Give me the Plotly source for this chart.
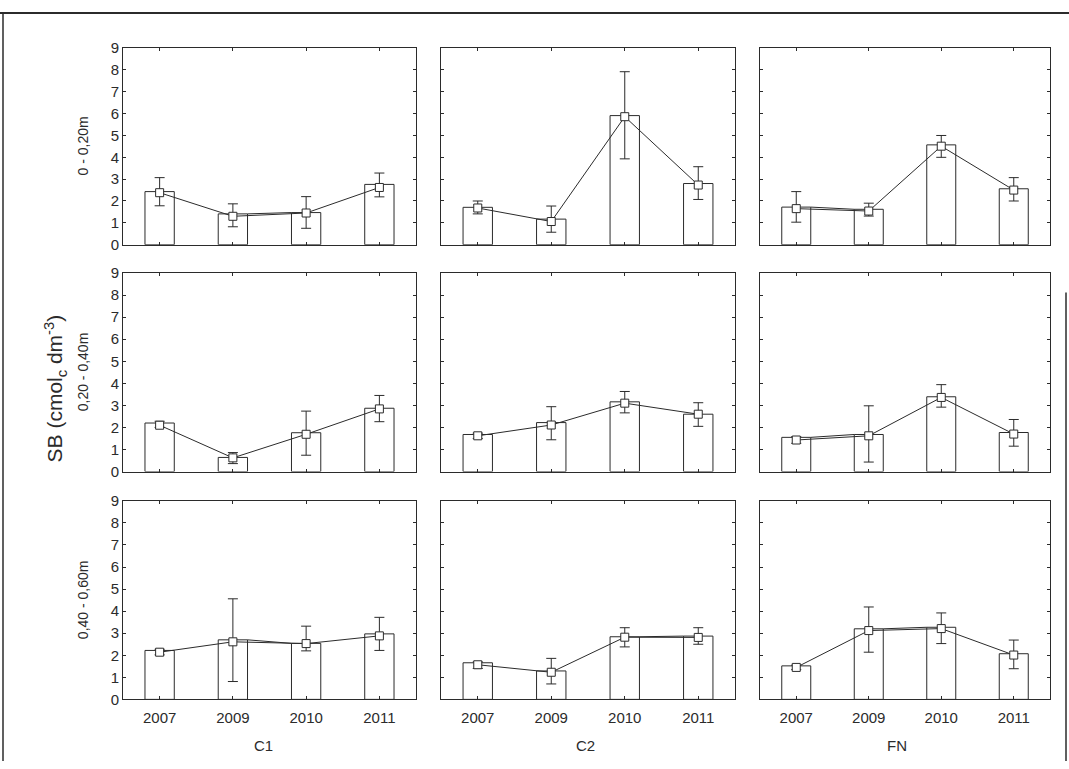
import plotly.graph_objects as go

# Sampling years, sites (columns) and soil depths (rows)
years = ["2007", "2009", "2010", "2011"]
sites = ["C1", "C2", "FN"]
depths = ["0 - 0,20m", "0,20 - 0,40m", "0,40 - 0,60m"]

# Bar heights per depth: one list per site (C1, C2, FN)
bar_0_20 = [[2.43, 1.41, 1.47, 2.76], [1.71, 1.17, 5.91, 2.80], [1.72, 1.62, 4.57, 2.56]]
bar_20_40 = [[2.20, 0.64, 1.76, 2.87], [1.68, 2.22, 3.16, 2.60], [1.55, 1.68, 3.39, 1.77]]
bar_40_60 = [[2.22, 2.70, 2.54, 2.97], [1.66, 1.29, 2.84, 2.87], [1.52, 3.20, 3.27, 2.07]]

# Mean values (square markers)
mean_0_20 = [[2.38, 1.30, 1.45, 2.62], [1.68, 1.06, 5.86, 2.73], [1.65, 1.54, 4.51, 2.50]]
mean_20_40 = [[2.10, 0.62, 1.69, 2.84], [1.62, 2.11, 3.10, 2.60], [1.43, 1.62, 3.36, 1.70]]
mean_40_60 = [[2.14, 2.61, 2.53, 2.88], [1.57, 1.23, 2.82, 2.81], [1.45, 3.12, 3.21, 2.01]]

# Upper ends of the whiskers
upper_0_20 = [[3.07, 1.87, 2.20, 3.28], [2.00, 1.77, 7.92, 3.57], [2.43, 1.90, 5.00, 3.07]]
upper_20_40 = [[2.28, 0.86, 2.74, 3.45], [1.74, 2.94, 3.63, 3.12], [1.58, 2.98, 3.94, 2.36]]
upper_40_60 = [[2.27, 4.56, 3.32, 3.72], [1.70, 1.86, 3.25, 3.25], [1.55, 4.19, 3.92, 2.69]]

# Lower ends of the whiskers
lower_0_20 = [[1.78, 0.82, 0.75, 2.19], [1.41, 0.57, 3.93, 2.07], [1.03, 1.31, 4.00, 2.00]]
lower_20_40 = [[2.00, 0.36, 0.74, 2.26], [1.50, 1.44, 2.66, 2.05], [1.28, 0.43, 2.92, 1.15]]
lower_40_60 = [[2.02, 0.81, 2.20, 2.22], [1.40, 0.70, 2.38, 2.50], [1.35, 2.14, 2.53, 1.39]]

# Adjacent bars whose tops are joined by a connector: (row, col) -> index of left bar
bar_links = {(0, 0): [1], (0, 2): [0], (1, 2): [0], (2, 0): [1], (2, 1): [2], (2, 2): [1]}

bars = [bar_0_20, bar_20_40, bar_40_60]
means = [mean_0_20, mean_20_40, mean_40_60]
uppers = [upper_0_20, upper_20_40, upper_40_60]
lowers = [lower_0_20, lower_20_40, lower_40_60]

W, H = 1069, 769
INK = "#2b2b2b"
FONT = "Arial, Liberation Sans, sans-serif"
BAR_W = 0.4

col_px = [(123, 416), (441, 735), (760, 1050)]
row_px = [(40, 241), (270, 473), (503, 706)]

fig = go.Figure()
layout = dict(
    width=W, height=H,
    margin=dict(l=0, r=0, t=0, b=0),
    paper_bgcolor="white", plot_bgcolor="white",
    showlegend=False,
    font=dict(family=FONT, color=INK),
)

xs = list(range(len(years)))
for r in range(3):
    for c in range(3):
        k = r * 3 + c + 1
        xa = "x" if k == 1 else f"x{k}"
        ya = "y" if k == 1 else f"y{k}"
        b = bars[r][c]
        m = means[r][c]
        up = uppers[r][c]
        lo = lowers[r][c]

        fig.add_trace(go.Bar(
            x=xs, y=b, width=BAR_W, xaxis=xa, yaxis=ya,
            marker=dict(color="white", line=dict(color=INK, width=1)),
            hoverinfo="skip",
        ))
        for i in bar_links.get((r, c), []):
            fig.add_trace(go.Scatter(
                x=[xs[i] + BAR_W / 2, xs[i + 1] - BAR_W / 2], y=[b[i], b[i + 1]],
                mode="lines", line=dict(color=INK, width=1),
                xaxis=xa, yaxis=ya, hoverinfo="skip",
            ))
        fig.add_trace(go.Scatter(
            x=xs, y=m, xaxis=xa, yaxis=ya,
            mode="lines+markers",
            line=dict(color=INK, width=1),
            marker=dict(symbol="square", size=8, color="white",
                        line=dict(color=INK, width=1)),
            error_y=dict(type="data", symmetric=False,
                         array=[u - v for u, v in zip(up, m)],
                         arrayminus=[v - l for v, l in zip(m, lo)],
                         color=INK, thickness=1, width=5),
        ))

        x0, x1 = col_px[c]
        y0, y1 = row_px[r]
        layout["xaxis" if k == 1 else f"xaxis{k}"] = dict(
            domain=[x0 / W, x1 / W], anchor=ya,
            range=[-0.5, 3.5], tickvals=xs, ticktext=years,
            showticklabels=(r == 2),
            ticks="inside", ticklen=3, tickcolor=INK,
            showline=True, linecolor=INK, linewidth=1, mirror="ticks",
            showgrid=False, zeroline=False,
            tickfont=dict(family=FONT, size=15, color=INK),
            ticklabelstandoff=5,
        )
        layout["yaxis" if k == 1 else f"yaxis{k}"] = dict(
            domain=[1 - y1 / H, 1 - y0 / H], anchor=xa,
            range=[0, 9], dtick=1,
            showticklabels=(c == 0),
            ticks="inside", ticklen=3, tickcolor=INK,
            showline=True, linecolor=INK, linewidth=1, mirror="ticks",
            showgrid=False, zeroline=False,
            tickfont=dict(family=FONT, size=15, color=INK),
        )

annotations = []
for r, label in enumerate(depths):
    y0, y1 = row_px[r]
    annotations.append(dict(
        text=label, x=83 / W, y=1 - (y0 + y1) / 2 / H, xref="paper", yref="paper",
        textangle=-90, showarrow=False, xanchor="center", yanchor="middle",
        font=dict(family=FONT, size=14, color=INK),
    ))
for c, (label, xc) in enumerate(zip(sites, [263, 585, 897])):
    annotations.append(dict(
        text=label, x=xc / W, y=1 - 753 / H, xref="paper", yref="paper",
        showarrow=False, xanchor="center", yanchor="middle",
        font=dict(family=FONT, size=15, color=INK),
    ))
annotations.append(dict(
    text="SB (cmol<sub>c</sub> dm<sup>-3</sup>)", x=55 / W, y=1 - 388 / H,
    xref="paper", yref="paper", textangle=-90, showarrow=False,
    xanchor="center", yanchor="middle",
    font=dict(family=FONT, size=21, color=INK),
))
layout["annotations"] = annotations

# Frame around the figure
layout["shapes"] = [
    dict(type="line", xref="paper", yref="paper", x0=0, x1=1, y0=1 - 4 / H, y1=1 - 4 / H,
         line=dict(color=INK, width=2)),
    dict(type="line", xref="paper", yref="paper", x0=3 / W, x1=3 / W, y0=0, y1=1 - 4 / H,
         line=dict(color=INK, width=1.5)),
    dict(type="line", xref="paper", yref="paper", x0=1066 / W, x1=1066 / W, y0=0, y1=1 - 290 / H,
         line=dict(color=INK, width=1.5)),
]

fig.update_layout(**layout)
fig.write_html("out.html")
